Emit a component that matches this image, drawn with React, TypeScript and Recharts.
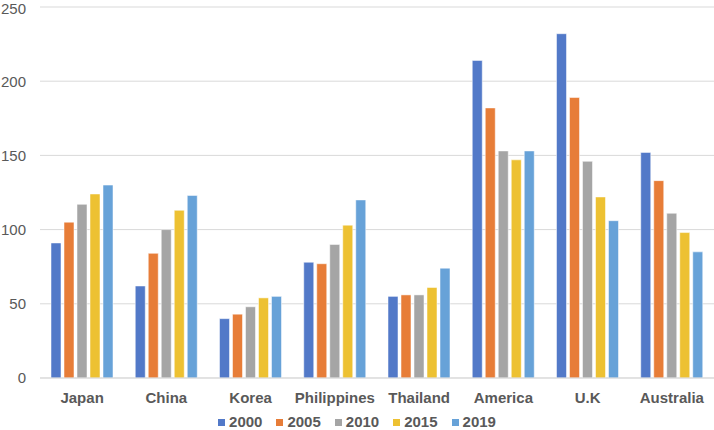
import React from 'react'
import { BarChart, Bar, XAxis, YAxis, CartesianGrid, Legend } from 'recharts'

const countries = ['Japan', 'China', 'Korea', 'Philippines', 'Thailand', 'America', 'U.K', 'Australia']
const years = ['2000', '2005', '2010', '2015', '2019']
const colors = ['#5279C8', '#E77D38', '#A5A5A5', '#EDC132', '#67A2D8']

const v2000 = [91, 62, 40, 78, 55, 214, 232, 152]
const v2005 = [105, 84, 43, 77, 56, 182, 189, 133]
const v2010 = [117, 100, 48, 90, 56, 153, 146, 111]
const v2015 = [124, 113, 54, 103, 61, 147, 122, 98]
const v2019 = [130, 123, 55, 120, 74, 153, 106, 85]

const yTicks = [0, 50, 100, 150, 200, 250]

const series = [v2000, v2005, v2010, v2015, v2019]

const data = countries.map((name, i) => {
  const row: any = { name }
  years.forEach((y, j) => {
    row[y] = series[j][i]
  })
  return row
})

const font = '"Liberation Sans", Arial, sans-serif'

// Excel-like legend: small squares, bold grey labels, wider spacing
const renderLegend = () => (
  <div
    style={{
      display: 'flex',
      justifyContent: 'center',
      alignItems: 'center',
      paddingTop: 8,
      lineHeight: '16px',
      fontFamily: font,
    }}
  >
    {years.map((y, i) => (
      <div key={y} style={{ display: 'flex', alignItems: 'center', marginRight: i < years.length - 1 ? 14 : 0 }}>
        <span style={{ width: 7, height: 7, background: colors[i], marginRight: 4, display: 'inline-block' }} />
        <span style={{ color: '#595959', fontWeight: 'bold', fontSize: 15 }}>{y}</span>
      </div>
    ))}
  </div>
)

const App: React.FC = () => {
  return (
    <div style={{ position: 'absolute', left: 0, top: 0, fontFamily: font }}>
      <BarChart
        width={714}
        height={430}
        data={data}
        margin={{ top: 7, right: 0, bottom: 0, left: 0 }}
        barGap={3}
        barCategoryGap={11}
      >
        <CartesianGrid vertical={false} stroke="#d9d9d9" />
        <XAxis
          dataKey="name"
          tickLine={false}
          axisLine={{ stroke: '#d9d9d9' }}
          tick={{ fill: '#595959', fontSize: 15, fontWeight: 'bold', fontFamily: font }}
          tickMargin={8}
          height={28}
          interval={0}
        />
        <YAxis
          width={40}
          domain={[0, 250]}
          ticks={yTicks}
          tickLine={false}
          axisLine={false}
          tickSize={0}
          tickMargin={14}
          tick={{ fill: '#595959', fontSize: 15, fontFamily: font }}
        />
        <Legend verticalAlign="bottom" height={24} content={renderLegend} />
        {years.map((y, i) => (
          <Bar
            key={y}
            dataKey={y}
            fill={colors[i]}
            stroke="#ffffff"
            strokeOpacity={0.5}
            strokeWidth={1}
            isAnimationActive={false}
          />
        ))}
      </BarChart>
    </div>
  )
}

export default App
